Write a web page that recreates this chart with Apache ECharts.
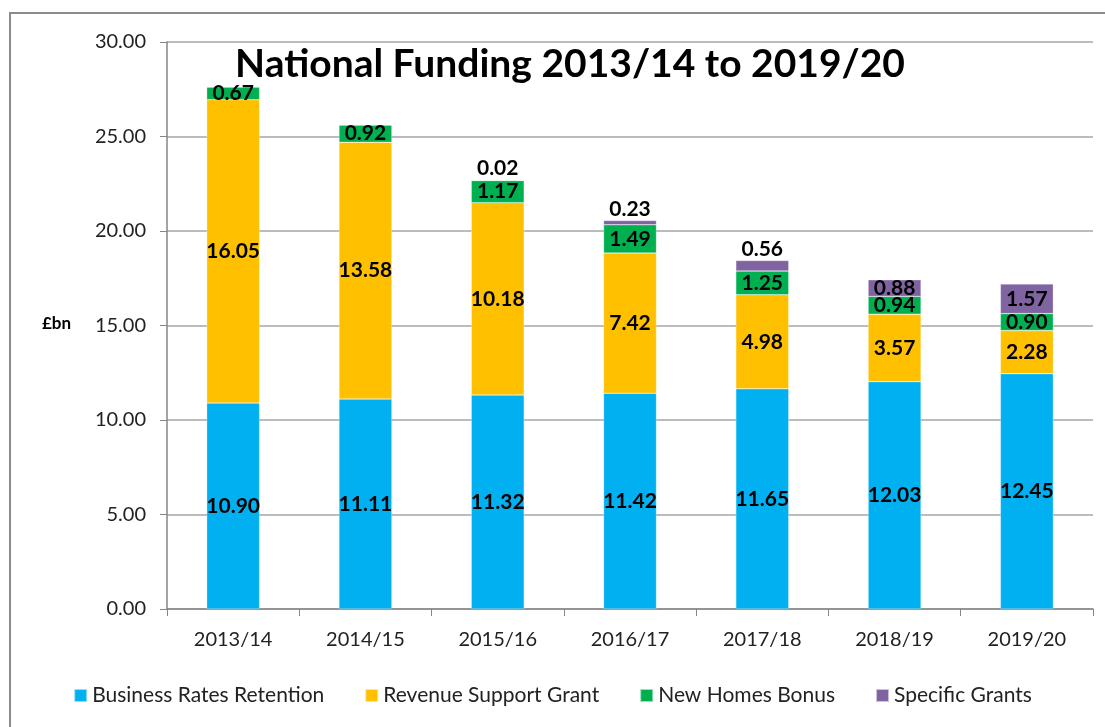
<!DOCTYPE html>
<html>
<head>
<meta charset="utf-8">
<script src="https://cdn.jsdelivr.net/npm/echarts@6/dist/echarts.min.js"></script>
<style>
  html, body { margin: 0; padding: 0; background: #fff; }
  #chart { width: 1105px; height: 727px; }
</style>
</head>
<body>
<div id="chart"></div>
<script>
var years = ['2013/14', '2014/15', '2015/16', '2016/17', '2017/18', '2018/19', '2019/20'];
var businessRates = [10.90, 11.11, 11.32, 11.42, 11.65, 12.03, 12.45];
var revenueSupport = [16.05, 13.58, 10.18, 7.42, 4.98, 3.57, 2.28];
var newHomes = [0.67, 0.92, 1.17, 1.49, 1.25, 0.94, 0.90];
var specificGrants = [0, 0, 0.02, 0.23, 0.56, 0.88, 1.57];

var FONT = 'Lato';

function labelFmt(p) {
  return p.value > 0 ? p.value.toFixed(2) : '';
}

var baseLabel = {
  show: true,
  position: 'inside',
  color: '#000',
  fontFamily: FONT,
  fontWeight: 'bold',
  fontSize: 21,
  formatter: labelFmt
};

function makeSeries(name, values, color) {
  return {
    name: name,
    type: 'bar',
    stack: 'total',
    barWidth: '40%',
    data: values,
    itemStyle: { color: color, borderColor: 'rgba(255,255,255,0.6)', borderWidth: 0.5 },
    label: baseLabel
  };
}

// small specific grants values sit above the bar
var sgData = specificGrants.map(function (v) {
  if (v > 0 && v < 0.7) {
    return { value: v, label: { position: 'top', distance: 1 } };
  }
  return v;
});

var chart = echarts.init(document.getElementById('chart'));
chart.setOption({
  animation: false,
  textStyle: { fontFamily: FONT },
  grid: { left: 167, right: 12, top: 42, bottom: 118 },
  title: {
    text: 'National Funding 2013/14 to 2019/20',
    left: 565,
    textAlign: 'center',
    top: 40,
    textStyle: { fontFamily: FONT, fontWeight: 'bold', fontSize: 39, color: '#000' }
  },
  legend: {
    bottom: 16,
    left: 'center',
    itemWidth: 13,
    itemHeight: 13,
    itemGap: 40,
    icon: 'rect',
    textStyle: { fontFamily: FONT, fontSize: 21, color: '#222' },
    data: ['Business Rates Retention', 'Revenue Support Grant', 'New Homes Bonus', 'Specific Grants']
  },
  xAxis: {
    type: 'category',
    data: years,
    axisLine: { lineStyle: { color: '#868686', width: 1.5 } },
    axisTick: { show: true, length: 7, lineStyle: { color: '#868686' } },
    axisLabel: { fontFamily: FONT, fontSize: 20, color: '#222', margin: 21 }
  },
  yAxis: {
    type: 'value',
    min: 0,
    max: 30,
    interval: 5,
    axisLine: { show: true, lineStyle: { color: '#868686', width: 1.5 } },
    axisTick: { show: true, length: 7, inside: false, lineStyle: { color: '#868686' } },
    axisLabel: {
      fontFamily: FONT, fontSize: 20, color: '#222', margin: 21,
      formatter: function (v) { return v.toFixed(2); }
    },
    splitLine: { lineStyle: { color: '#a6a6a6', width: 1.5 } }
  },
  graphic: [
    {
      type: 'rect',
      shape: { x: 10, y: 13, width: 1200, height: 800 },
      style: { fill: 'none', stroke: '#8c8c8c', lineWidth: 2 },
      silent: true
    },
    {
      type: 'text',
      left: 42,
      top: 315,
      style: { text: '£bn', fontFamily: FONT, fontWeight: 'bold', fontSize: 17, fill: '#000' }
    }
  ],
  series: [
    makeSeries('Business Rates Retention', businessRates, '#00B0F0'),
    makeSeries('Revenue Support Grant', revenueSupport, '#FFC000'),
    makeSeries('New Homes Bonus', newHomes, '#00B050'),
    makeSeries('Specific Grants', sgData, '#8064A2')
  ]
});
</script>
</body>
</html>
